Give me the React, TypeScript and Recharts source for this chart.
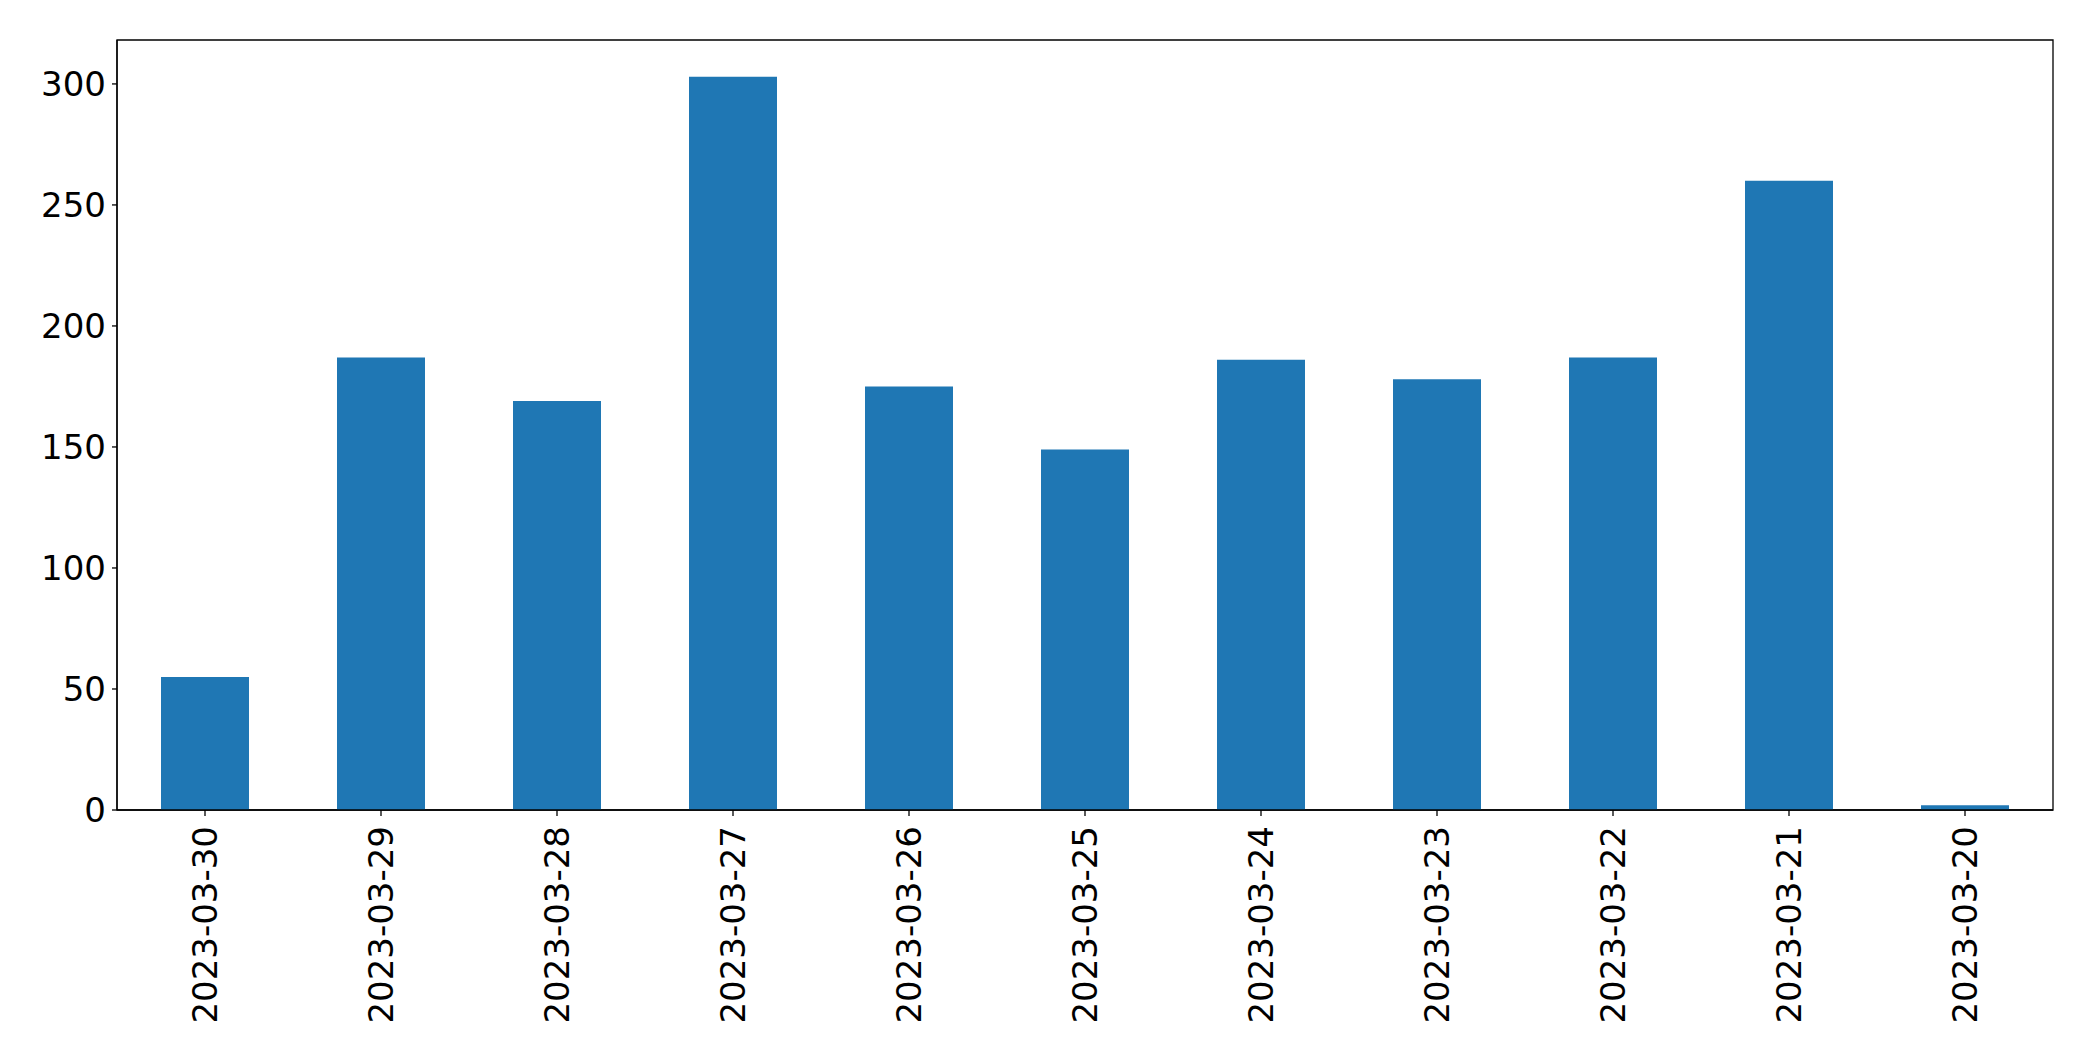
import React from "react";
import { BarChart, Bar, XAxis, YAxis, ReferenceArea } from "recharts";

const dates = [
  "2023-03-30",
  "2023-03-29",
  "2023-03-28",
  "2023-03-27",
  "2023-03-26",
  "2023-03-25",
  "2023-03-24",
  "2023-03-23",
  "2023-03-22",
  "2023-03-21",
  "2023-03-20",
];

const counts = [55, 187, 169, 303, 175, 149, 186, 178, 187, 260, 2];

const yTicks = [0, 50, 100, 150, 200, 250, 300];

const chartData = dates.map((date, i) => ({ date, count: counts[i] }));

const FONT = "'DejaVu Sans', sans-serif";
const FONT_SIZE = 34;

const DateTick = (props: any) => {
  const { x, y, payload } = props;
  return (
    <g transform={`translate(${x},${y}) rotate(-90)`}>
      <text
        x={0}
        y={0}
        dy="0.35em"
        textAnchor="end"
        fill="#000"
        fontFamily={FONT}
        fontSize={FONT_SIZE}
      >
        {payload.value}
      </text>
    </g>
  );
};

const App: React.FC = () => {
  return (
    <div style={{ position: "absolute", left: 0, top: 0, width: 2093, height: 1061, background: "#fff" }}>
      <BarChart
        width={2093}
        height={1061}
        data={chartData}
        margin={{ top: 40, right: 40, left: 0, bottom: 0 }}
        barCategoryGap="25%"
      >
        <XAxis
          dataKey="date"
          height={251}
          interval={0}
          tick={<DateTick />}
          tickSize={6}
          tickMargin={10}
          axisLine={{ stroke: "#000", strokeWidth: 1.3 }}
          tickLine={{ stroke: "#000", strokeWidth: 1.3 }}
        />
        <YAxis
          width={117}
          domain={[0, 318.15]}
          ticks={yTicks}
          interval={0}
          tickSize={5}
          tickMargin={6}
          tick={{ fill: "#000", fontFamily: FONT, fontSize: FONT_SIZE }}
          axisLine={{ stroke: "#000", strokeWidth: 1.3 }}
          tickLine={{ stroke: "#000", strokeWidth: 1.3 }}
        />
        <Bar dataKey="count" fill="#1f77b4" isAnimationActive={false} />
        <ReferenceArea
          y1={0}
          y2={318.15}
          fill="none"
          fillOpacity={0}
          stroke="#000"
          strokeWidth={1.3}
          ifOverflow="visible"
        />
      </BarChart>
    </div>
  );
};

export default App;
